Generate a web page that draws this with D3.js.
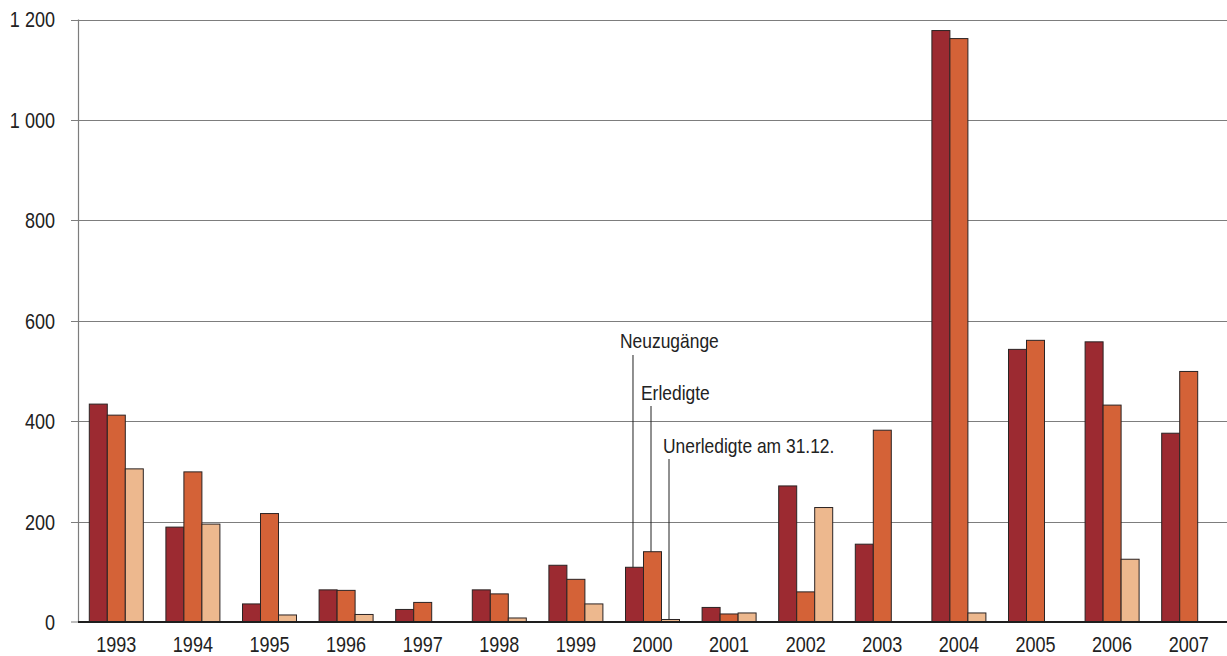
<!DOCTYPE html>
<html>
<head>
<meta charset="utf-8">
<script src="https://cdn.jsdelivr.net/npm/d3@7"></script>
<style>
  html, body { margin: 0; padding: 0; background: #fff; }
  svg { display: block; }
  text { font-family: "Liberation Sans", Arial, "Helvetica", sans-serif; fill: #222; }
</style>
</head>
<body>
<svg id="chart" width="1227" height="656"></svg>
<script>
const years = ["1993","1994","1995","1996","1997","1998","1999","2000","2001","2002","2003","2004","2005","2006","2007"];
const seriesNames = ["Neuzugänge", "Erledigte", "Unerledigte am 31.12."];
const neuzugaenge = [434, 189, 36, 64, 25, 64, 113, 109, 29, 271, 155, 1178, 543, 558, 376];
const erledigte   = [412, 299, 216, 63, 39, 56, 85, 140, 16, 60, 382, 1162, 561, 432, 499];
const unerledigte = [305, 195, 14, 15, 1, 8, 36, 5, 18, 228, 1, 18, 1, 125, 1];
const yTicks = [0, 200, 400, 600, 800, 1000, 1200];
const colors = ["#9c2a31", "#d46237", "#edb88e"];

const values = [neuzugaenge, erledigte, unerledigte];
const svg = d3.select("#chart");
const mLeft = 78, mRight = 1227, mTop = 19.5, mBottom = 622;
const narrow = 0.82;

const x0 = d3.scaleBand().domain(years).range([mLeft, mRight]).paddingInner(0.295).paddingOuter(0.1475);
const x1 = d3.scaleBand().domain(d3.range(3)).range([0, x0.bandwidth()]).padding(0);
const y = d3.scaleLinear().domain([0, 1200]).range([mBottom, mTop]);

const fmt = v => v >= 1000 ? String(Math.floor(v/1000)) + " " + String(v % 1000).padStart(3, "0") : String(v);

function ntext(parent, x, yy, str, size, anchor, dy, sx) {
  const g = parent.append("g").attr("transform", `translate(${x},${yy}) scale(${sx || narrow},1)`);
  g.append("text").attr("x", 0).attr("y", 0).attr("dy", dy || 0)
    .attr("text-anchor", anchor || "start").attr("font-size", size).text(str);
  return g;
}

// gridlines
svg.append("g").selectAll("line").data(yTicks.filter(d => d > 0)).join("line")
  .attr("x1", mLeft - 7).attr("x2", mRight)
  .attr("y1", d => Math.round(y(d)) + 0.5).attr("y2", d => Math.round(y(d)) + 0.5)
  .attr("stroke", "#7d7d7d").attr("stroke-width", 1);

// zero tick
svg.append("line").attr("x1", mLeft - 7).attr("x2", mLeft).attr("y1", mBottom).attr("y2", mBottom)
  .attr("stroke", "#7d7d7d").attr("stroke-width", 1);

// y axis line
svg.append("line").attr("x1", mLeft + 0.5).attr("x2", mLeft + 0.5).attr("y1", y(1200)).attr("y2", mBottom)
  .attr("stroke", "#7d7d7d").attr("stroke-width", 1.2);

// y labels
const yl = svg.append("g");
yTicks.forEach(t => ntext(yl, 55, y(t), fmt(t), 22, "end", "0.36em"));

// bars
const groups = svg.append("g").selectAll("g").data(years).join("g")
  .attr("transform", d => `translate(${x0(d)},0)`);
groups.selectAll("rect").data((d, i) => values.map((s, k) => ({k, v: s[i]}))).join("rect")
  .attr("x", d => x1(d.k)).attr("width", x1.bandwidth())
  .attr("y", d => y(d.v)).attr("height", d => mBottom - y(d.v))
  .attr("fill", d => colors[d.k]).attr("stroke", "#2b2323").attr("stroke-width", 1);

// baseline
svg.append("line").attr("x1", mLeft).attr("x2", mRight).attr("y1", mBottom).attr("y2", mBottom)
  .attr("stroke", "#1e1e1e").attr("stroke-width", 2);

// x labels
const xl = svg.append("g");
years.forEach(yr => ntext(xl, x0(yr) + x0.bandwidth() / 2, 652, yr, 22, "middle"));

// legend annotations on year 2000
const annoYear = "2000";
const idx = years.indexOf(annoYear);
const labelPos = [
  {tx: 620, ty: 348, lineTop: 355},
  {tx: 641, ty: 400, lineTop: 406},
  {tx: 663, ty: 453, lineTop: 459}
];
seriesNames.forEach((name, k) => {
  const cx = x0(annoYear) + x1(k) + x1.bandwidth() / 2 - 1.5;
  svg.append("line").attr("x1", cx).attr("x2", cx)
    .attr("y1", labelPos[k].lineTop).attr("y2", y(values[k][idx]))
    .attr("stroke", "#222").attr("stroke-width", 1);
  ntext(svg, labelPos[k].tx, labelPos[k].ty, name, 20.5, "start", 0, 0.85);
});
</script>
</body>
</html>
